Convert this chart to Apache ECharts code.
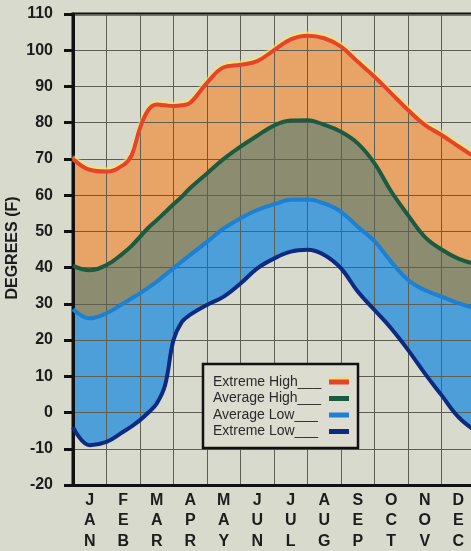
<!DOCTYPE html>
<html><head><meta charset="utf-8">
<script src="https://cdn.jsdelivr.net/npm/echarts/dist/echarts.min.js"></script>
<style>html,body{margin:0;padding:0;background:#d8dacd;}#c{width:471px;height:551px;}</style>
</head><body><div id="c"></div>
<script>
// ---- data ----
const months = ['JAN','FEB','MAR','APR','MAY','JUN','JUL','AUG','SEP','OCT','NOV','DEC'];
// positions in months from the start of January (0) to end of December (12)
const monthPos    = [0, 0.5, 1, 1.5, 1.75, 2, 2.25, 2.5, 2.75, 3, 3.25, 3.5, 4, 4.5, 5, 5.5, 6, 6.5, 7, 7.5, 8, 8.5, 9, 9.5, 10, 10.5, 11, 11.5, 12];
const extremeHigh = [70, 67, 66.5, 68.3, 71, 78.5, 83.5, 85, 84.8, 84.6, 84.8, 85.5, 91, 95.3, 96, 97, 100, 103, 104, 103.3, 101, 96.8, 92.7, 88.1, 83.5, 79.4, 76.6, 73.5, 70.5];
const averageHigh = [40.5, 39.3, 40.7, 44, 46, 48.5, 51, 53.1, 55.3, 57.5, 59.6, 62, 66, 70, 73.4, 76.4, 79.2, 80.6, 80.7, 79.4, 77.5, 74.3, 68.8, 61, 54.5, 48.5, 45, 42.5, 41];
const averageLow  = [28.5, 26, 27.4, 30.1, 31.5, 32.9, 34.5, 36.1, 38, 39.8, 41.7, 43.5, 47.1, 50.8, 53.6, 55.9, 57.5, 58.7, 58.8, 57.7, 55.4, 51.3, 47.3, 41.6, 36.6, 33.8, 32, 30.2, 28.8];
const extremeLow  = [-4, -9, -8.1, -5.3, -3.8, -2.1, 0, 2.5, 7.6, 20, 25, 27, 29.7, 32, 35.6, 39.8, 42.5, 44.4, 44.9, 43.5, 39.8, 33.4, 28.3, 23.2, 17.3, 10.8, 4.8, -1.2, -5];
const seriesNames = ['Extreme High', 'Average High', 'Average Low', 'Extreme Low'];
const legendFill  = ['___', '___', '___', '___'];
const yTitle = 'DEGREES (F)';
const yMin = -20, yMax = 110, yStep = 10;

// ---- styling ----
const BG = '#d8dacd';
const lineColors = ['#e5432a', '#1b5b40', '#1d80d2', '#0b2a80'];
const fillColors = ['#e7a466', '#8c8d70', '#4c9fd8', BG];
const FONT = "'Liberation Sans', Arial, sans-serif";
const values = [extremeHigh, averageHigh, averageLow, extremeLow];
const pts = arr => monthPos.map((x, i) => [x, arr[i]]);

const areaSeries = values.map((v, i) => ({
  type: 'line', xAxisIndex: 1, yAxisIndex: 0, data: pts(v), smooth: 0.4,
  symbol: 'none', silent: true, z: 1,
  lineStyle: { width: 0 },
  areaStyle: { color: fillColors[i], opacity: 1, origin: 'start' }
}));
const lineSeries = values.map((v, i) => ({
  name: seriesNames[i], type: 'line', xAxisIndex: 1, yAxisIndex: 0, data: pts(v), smooth: 0.4,
  symbol: 'none', silent: true, z: 5,
  lineStyle: i === 0
    ? { width: 4, color: lineColors[i], shadowColor: 'rgba(245,230,110,0.9)', shadowBlur: 2, shadowOffsetY: -2 }
    : { width: 4, color: lineColors[i] }
}));

const chart = echarts.init(document.getElementById('c'), null, { renderer: 'canvas' });

const legendX = 203, legendY = 364, legendW = 155, legendH = 84;
const legendRows = [382, 398.5, 415, 431.5];
const graphics = [
  { type: 'text', x: 13, y: 248, rotation: Math.PI / 2, z: 21,
    style: { text: yTitle, font: "bold 16px " + FONT, fill: '#1c1c1c', align: 'center', verticalAlign: 'middle' } },
  { type: 'rect', shape: { x: legendX, y: legendY, width: legendW, height: legendH },
    style: { fill: '#dcdcd1', stroke: '#111', lineWidth: 2.5 }, z: 20 }
];
seriesNames.forEach((n, i) => {
  graphics.push({ type: 'text', x: 213, y: legendRows[i], z: 21,
    style: { text: n + legendFill[i], font: "14px " + FONT, fill: '#2a2a2a', verticalAlign: 'middle' } });
  if (i === 0) graphics.push({ type: 'rect', shape: { x: 329, y: legendRows[i] - 5, width: 20, height: 2 }, style: { fill: '#ece070' }, z: 21 });
  graphics.push({ type: 'rect', shape: { x: 329, y: legendRows[i] - 2.5, width: 20, height: 5 },
    style: { fill: lineColors[i] }, z: 21 });
});

chart.setOption({
  backgroundColor: BG,
  animation: false,
  grid: { left: 73, top: 14, width: 402, height: 471, show: true, borderColor: '#111', borderWidth: 3,
    backgroundColor: 'transparent', containLabel: false, outerBoundsMode: 'none' },
  xAxis: [
    { type: 'category', data: months, boundaryGap: true, z: 3,
      axisLine: { onZero: false, lineStyle: { color: '#111', width: 3 } },
      axisTick: { show: false },
      axisLabel: { interval: 0, margin: 5, formatter: v => v.split('').join('\n'),
        fontFamily: FONT, fontWeight: 'bold', fontSize: 16, lineHeight: 20.5, color: '#1c1c1c' },
      splitLine: { show: true, interval: 0, lineStyle: { color: '#5e5e52', width: 1 } } },
    { type: 'value', min: 0, max: 12, show: false }
  ],
  yAxis: {
    type: 'value', min: yMin, max: yMax, interval: yStep, z: 3,
    axisLine: { show: true, onZero: false, lineStyle: { color: '#111', width: 3 } },
    axisTick: { show: true, length: 9, lineStyle: { color: '#111', width: 3 } },
    axisLabel: { margin: 20, fontFamily: FONT, fontWeight: 'bold', fontSize: 16, color: '#1c1c1c' },
    splitLine: { show: true, lineStyle: { color: '#5e5e52', width: 1 } }
  },
  graphic: graphics,
  series: areaSeries.concat(lineSeries)
});
</script></body></html>
